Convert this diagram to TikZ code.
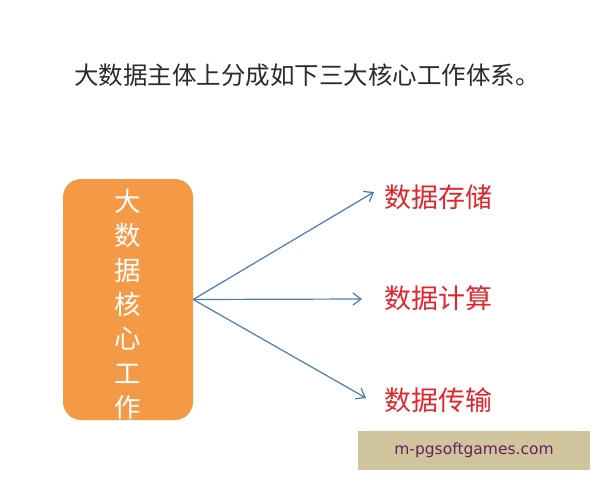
\documentclass[tikz,border=0pt]{standalone}
\usepackage{fontspec}
\setmainfont{Noto Sans CJK SC}
\newfontfamily\markfont{DejaVu Sans}
\usetikzlibrary{arrows.meta}
\definecolor{titlegray}{HTML}{2B2B2B}
\definecolor{coreorange}{HTML}{F49A47}
\definecolor{linkblue}{HTML}{4E79AE}
\definecolor{itemred}{HTML}{E2252B}
\definecolor{marktan}{HTML}{CFC49B}
\definecolor{markpurple}{HTML}{6A1E5E}
\tikzset{
    link/.style = {draw=linkblue, line width=1.2pt, -{Straight Barb[length=8pt,width=12pt]}},
    item/.style = {text=itemred, font=\fontsize{27}{27}\selectfont, inner sep=0pt, anchor=west},
}
\begin{document}
\begin{tikzpicture}[x=1pt,y=-1pt]
        \useasboundingbox (0,0) rectangle (600,480);
        \node[text=titlegray, font=\fontsize{24.5}{24.5}\selectfont] (title) at (307,75) {大数据主体上分成如下三大核心工作体系。};
        \node[fill=coreorange, rounded corners=18pt, minimum width=130pt, minimum height=241pt] (core) at (128,299.5) {};
        \node[text=white, align=center, font=\fontsize{26.5}{34.3}\selectfont] (corelabel) at (128,304.5) {大\\数\\据\\核\\心\\工\\作};
        \node[item] (store) at (384,197) {数据存储};
        \node[item] (compute) at (384,298) {数据计算};
        \node[item] (transfer) at (384,400) {数据传输};
        \coordinate (storetip) at (374,192);
        \coordinate (computetip) at (362,299);
        \coordinate (transfertip) at (366,398);
        \draw[link] (core.east) -- (storetip);
        \draw[link] (core.east) -- (computetip);
        \draw[link] (core.east) -- (transfertip);
        \node[fill=marktan, text=markpurple, font=\markfont\fontsize{15.5}{15.5}\selectfont, minimum width=232pt, minimum height=39pt] (mark) at (474,450.5) {m-pgsoftgames.com};
    \end{tikzpicture}
\end{document}
